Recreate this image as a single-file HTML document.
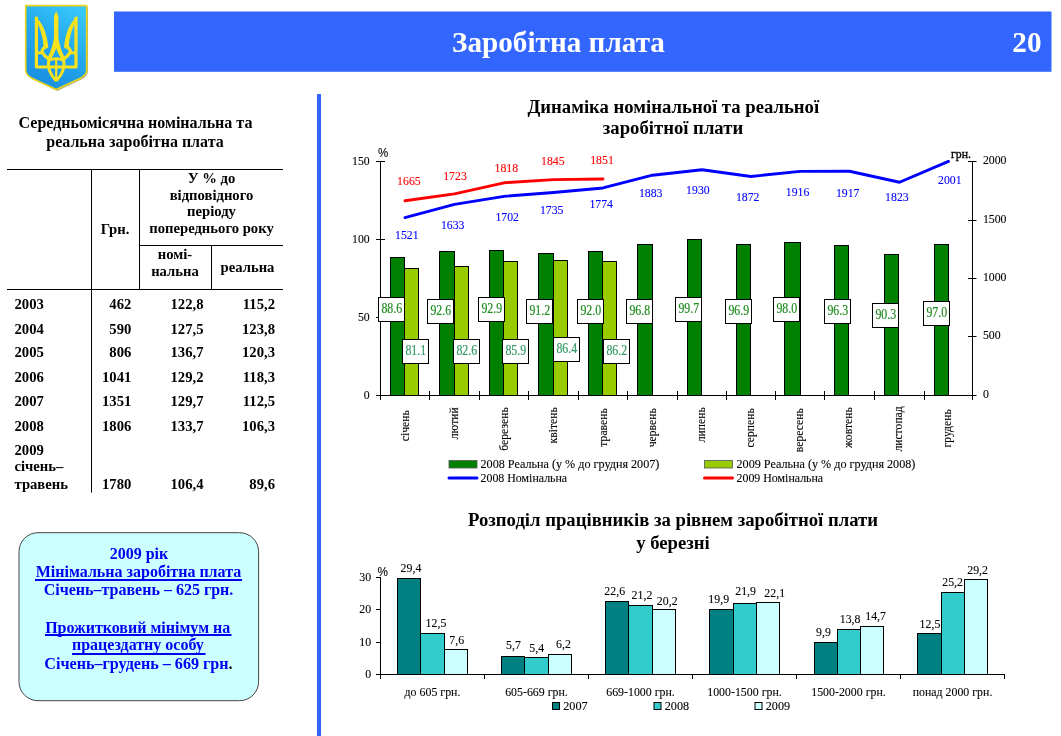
<!DOCTYPE html>
<html lang="uk"><head><meta charset="utf-8"><title>Заробітна плата</title>
<style>
html,body{margin:0;padding:0;background:#fff;}
body{width:1061px;height:736px;position:relative;overflow:hidden;font-family:"Liberation Serif",serif;}
svg text{white-space:pre;}
</style></head><body>
<svg width="1061" height="736" viewBox="0 0 1061 736" style="position:absolute;left:0;top:0;will-change:transform">
<defs>
<linearGradient id="shg" x1="0.8" y1="0" x2="0.3" y2="1"><stop offset="0" stop-color="#38c8fa"/><stop offset="0.5" stop-color="#22a6ee"/><stop offset="1" stop-color="#1a8ee0"/></linearGradient>
</defs>
<rect x="0" y="0" width="1061" height="736" fill="#fff"/>
<rect x="114" y="11.5" width="937.5" height="60.3" fill="#3366ff"/>
<text x="558.5" y="52.3" font-size="29.2" font-weight="bold" text-anchor="middle" fill="#fff" font-family='"Liberation Serif", serif' >Заробітна плата</text>
<text x="1041.5" y="52.3" font-size="29.2" font-weight="bold" text-anchor="end" fill="#fff" font-family='"Liberation Serif", serif' >20</text>
<g id="emblem">
<path d="M27 7 H88 V71.4 Q87.4 76.4 81.4 79.4 L57.2 90.9 L33.4 79.6 Q27.4 76.4 27 71.4 Z" fill="#77772a" opacity="0.6"/>
<path d="M25.7 5.7 H86.7 V70.5 Q86.2 75.5 80 78.5 L56.2 89.6 L32.4 78.5 Q26.2 75.5 25.7 70.5 Z" fill="url(#shg)" stroke="#e8d41c" stroke-width="1.7" stroke-linejoin="round"/>
<g fill="none" stroke="#f8e21e" stroke-linejoin="round" stroke-linecap="butt">
<g>
<path d="M36.4 16.8 V67 H56.2" stroke-width="3.2"/>
<path d="M34.8 16.2 C41 21 46.6 30 48.4 47.3 L43.8 49.2 C43.2 38.5 40.8 29.5 37.8 24.5 Z" fill="#f8e21e" stroke="none"/>
<path d="M47.5 46.4 Q42.6 47.6 42 51.2 Q43.6 56 49.4 59" stroke-width="3.2"/>
<path d="M36.3 52.8 H43" stroke-width="2.8"/>
<path d="M48.8 58.6 C47 68 50.4 75 56.2 81" stroke-width="3"/>
</g>
<g transform="translate(112.4,0) scale(-1,1)">
<path d="M36.4 16.8 V67 H56.2" stroke-width="3.2"/>
<path d="M34.8 16.2 C41 21 46.6 30 48.4 47.3 L43.8 49.2 C43.2 38.5 40.8 29.5 37.8 24.5 Z" fill="#f8e21e" stroke="none"/>
<path d="M47.5 46.4 Q42.6 47.6 42 51.2 Q43.6 56 49.4 59" stroke-width="3.2"/>
<path d="M36.3 52.8 H43" stroke-width="2.8"/>
<path d="M48.8 58.6 C47 68 50.4 75 56.2 81" stroke-width="3"/>
</g>
<path d="M56.2 11 L58.4 16 V37.5 C59.2 44 61.7 52 64.8 57.4 L61.6 59.6 C59.2 55 57.2 51.5 56.2 48.3 C55.2 51.5 53.2 55 50.8 59.6 L47.6 57.4 C50.7 52 53.2 44 54 37.5 V16 Z" fill="#f8e21e" stroke="none"/>
<path d="M56.2 58 V79" stroke-width="2.2"/>
<path d="M48.5 60.6 Q56.2 56.6 64 60.6" stroke-width="2.8"/>
</g>
</g>
<rect x="317" y="94" width="4" height="642" fill="#3366ff"/>
<text x="135.5" y="128" font-size="16" font-weight="bold" text-anchor="middle" fill="#000" font-family='"Liberation Serif", serif' >Середньомісячна номінальна та</text>
<text x="135" y="147" font-size="16" font-weight="bold" text-anchor="middle" fill="#000" font-family='"Liberation Serif", serif' >реальна заробітна плата</text>
<line x1="7" y1="169.5" x2="283" y2="169.5" stroke="#000" stroke-width="1"/>
<line x1="139" y1="245.5" x2="283" y2="245.5" stroke="#000" stroke-width="1"/>
<line x1="7" y1="289.5" x2="283" y2="289.5" stroke="#000" stroke-width="1"/>
<line x1="91.5" y1="169" x2="91.5" y2="492.5" stroke="#000" stroke-width="1"/>
<line x1="139.5" y1="169" x2="139.5" y2="289.5" stroke="#000" stroke-width="1"/>
<line x1="211.5" y1="245" x2="211.5" y2="289.5" stroke="#000" stroke-width="1"/>
<text x="211.5" y="182.8" font-size="14.67" font-weight="bold" text-anchor="middle" fill="#000" font-family='"Liberation Serif", serif' >У % до</text>
<text x="211.5" y="200" font-size="14.67" font-weight="bold" text-anchor="middle" fill="#000" font-family='"Liberation Serif", serif' >відповідного</text>
<text x="211.5" y="216.4" font-size="14.67" font-weight="bold" text-anchor="middle" fill="#000" font-family='"Liberation Serif", serif' >періоду</text>
<text x="211.5" y="232.8" font-size="14.67" font-weight="bold" text-anchor="middle" fill="#000" font-family='"Liberation Serif", serif' >попереднього року</text>
<text x="115" y="233.6" font-size="14.67" font-weight="bold" text-anchor="middle" fill="#000" font-family='"Liberation Serif", serif' >Грн.</text>
<text x="175" y="258.7" font-size="14.67" font-weight="bold" text-anchor="middle" fill="#000" font-family='"Liberation Serif", serif' >номі-</text>
<text x="175" y="275.7" font-size="14.67" font-weight="bold" text-anchor="middle" fill="#000" font-family='"Liberation Serif", serif' >нальна</text>
<text x="247.5" y="272" font-size="14.67" font-weight="bold" text-anchor="middle" fill="#000" font-family='"Liberation Serif", serif' >реальна</text>
<text x="14.5" y="308.8" font-size="14.67" font-weight="bold" text-anchor="start" fill="#000" font-family='"Liberation Serif", serif' >2003</text>
<text x="131.3" y="308.8" font-size="14.67" font-weight="bold" text-anchor="end" fill="#000" font-family='"Liberation Serif", serif' >462</text>
<text x="203.5" y="308.8" font-size="14.67" font-weight="bold" text-anchor="end" fill="#000" font-family='"Liberation Serif", serif' >122,8</text>
<text x="275" y="308.8" font-size="14.67" font-weight="bold" text-anchor="end" fill="#000" font-family='"Liberation Serif", serif' >115,2</text>
<text x="14.5" y="333.8" font-size="14.67" font-weight="bold" text-anchor="start" fill="#000" font-family='"Liberation Serif", serif' >2004</text>
<text x="131.3" y="333.8" font-size="14.67" font-weight="bold" text-anchor="end" fill="#000" font-family='"Liberation Serif", serif' >590</text>
<text x="203.5" y="333.8" font-size="14.67" font-weight="bold" text-anchor="end" fill="#000" font-family='"Liberation Serif", serif' >127,5</text>
<text x="275" y="333.8" font-size="14.67" font-weight="bold" text-anchor="end" fill="#000" font-family='"Liberation Serif", serif' >123,8</text>
<text x="14.5" y="356.7" font-size="14.67" font-weight="bold" text-anchor="start" fill="#000" font-family='"Liberation Serif", serif' >2005</text>
<text x="131.3" y="356.7" font-size="14.67" font-weight="bold" text-anchor="end" fill="#000" font-family='"Liberation Serif", serif' >806</text>
<text x="203.5" y="356.7" font-size="14.67" font-weight="bold" text-anchor="end" fill="#000" font-family='"Liberation Serif", serif' >136,7</text>
<text x="275" y="356.7" font-size="14.67" font-weight="bold" text-anchor="end" fill="#000" font-family='"Liberation Serif", serif' >120,3</text>
<text x="14.5" y="381.9" font-size="14.67" font-weight="bold" text-anchor="start" fill="#000" font-family='"Liberation Serif", serif' >2006</text>
<text x="131.3" y="381.9" font-size="14.67" font-weight="bold" text-anchor="end" fill="#000" font-family='"Liberation Serif", serif' >1041</text>
<text x="203.5" y="381.9" font-size="14.67" font-weight="bold" text-anchor="end" fill="#000" font-family='"Liberation Serif", serif' >129,2</text>
<text x="275" y="381.9" font-size="14.67" font-weight="bold" text-anchor="end" fill="#000" font-family='"Liberation Serif", serif' >118,3</text>
<text x="14.5" y="405.7" font-size="14.67" font-weight="bold" text-anchor="start" fill="#000" font-family='"Liberation Serif", serif' >2007</text>
<text x="131.3" y="405.7" font-size="14.67" font-weight="bold" text-anchor="end" fill="#000" font-family='"Liberation Serif", serif' >1351</text>
<text x="203.5" y="405.7" font-size="14.67" font-weight="bold" text-anchor="end" fill="#000" font-family='"Liberation Serif", serif' >129,7</text>
<text x="275" y="405.7" font-size="14.67" font-weight="bold" text-anchor="end" fill="#000" font-family='"Liberation Serif", serif' >112,5</text>
<text x="14.5" y="430.7" font-size="14.67" font-weight="bold" text-anchor="start" fill="#000" font-family='"Liberation Serif", serif' >2008</text>
<text x="131.3" y="430.7" font-size="14.67" font-weight="bold" text-anchor="end" fill="#000" font-family='"Liberation Serif", serif' >1806</text>
<text x="203.5" y="430.7" font-size="14.67" font-weight="bold" text-anchor="end" fill="#000" font-family='"Liberation Serif", serif' >133,7</text>
<text x="275" y="430.7" font-size="14.67" font-weight="bold" text-anchor="end" fill="#000" font-family='"Liberation Serif", serif' >106,3</text>
<text x="14.5" y="455" font-size="14.67" font-weight="bold" text-anchor="start" fill="#000" font-family='"Liberation Serif", serif' >2009</text>
<text x="14.5" y="471.3" font-size="14.67" font-weight="bold" text-anchor="start" fill="#000" font-family='"Liberation Serif", serif' >січень–</text>
<text x="14.5" y="488.8" font-size="14.67" font-weight="bold" text-anchor="start" fill="#000" font-family='"Liberation Serif", serif' >травень</text>
<text x="131.3" y="488.8" font-size="14.67" font-weight="bold" text-anchor="end" fill="#000" font-family='"Liberation Serif", serif' >1780</text>
<text x="203.5" y="488.8" font-size="14.67" font-weight="bold" text-anchor="end" fill="#000" font-family='"Liberation Serif", serif' >106,4</text>
<text x="275" y="488.8" font-size="14.67" font-weight="bold" text-anchor="end" fill="#000" font-family='"Liberation Serif", serif' >89,6</text>
<rect x="19" y="532.7" width="239.6" height="168" rx="19" ry="19" fill="#ccffff" stroke="#444" stroke-width="1"/>
<text x="139" y="559" font-size="16" font-weight="bold" text-anchor="middle" fill="#0000f2" font-family='"Liberation Serif", serif' >2009 рік</text>
<text x="138.5" y="577.4" font-size="16" font-weight="bold" text-anchor="middle" fill="#0000f2" font-family='"Liberation Serif", serif' >Мінімальна заробітна плата</text>
<text x="138.5" y="595.4" font-size="16" font-weight="bold" text-anchor="middle" fill="#0000f2" font-family='"Liberation Serif", serif' >Січень–травень – 625 грн.</text>
<text x="137.7" y="632.7" font-size="16" font-weight="bold" text-anchor="middle" fill="#0000f2" font-family='"Liberation Serif", serif' >Прожитковий мінімум на</text>
<text x="137.9" y="650.4" font-size="16" font-weight="bold" text-anchor="middle" fill="#0000f2" font-family='"Liberation Serif", serif' >працездатну особу</text>
<text x="138.5" y="668.8" font-size="16.13" font-weight="bold" text-anchor="middle" fill="#0000f2" font-family='"Liberation Serif", serif' >Січень–грудень – 669 грн<tspan fill="#000">.</tspan></text>
<rect x="35" y="579" width="207" height="2" fill="#0000f2"/>
<rect x="45" y="634" width="186.5" height="2" fill="#0000f2"/>
<rect x="72" y="653" width="133.5" height="2" fill="#0000f2"/>
<text x="673.3" y="113.3" font-size="18.7" font-weight="bold" text-anchor="middle" fill="#000" font-family='"Liberation Serif", serif' >Динаміка номінальної та реальної</text>
<text x="673" y="133.5" font-size="18.7" font-weight="bold" text-anchor="middle" fill="#000" font-family='"Liberation Serif", serif' >заробітної плати</text>
<rect x="390.5" y="257.5" width="14.0" height="138.0" fill="#008000" stroke="#000" stroke-width="1"/>
<rect x="404.5" y="268.5" width="14.0" height="127.0" fill="#99cc00" stroke="#000" stroke-width="1"/>
<rect x="439.5" y="251.5" width="15.0" height="144.0" fill="#008000" stroke="#000" stroke-width="1"/>
<rect x="454.5" y="266.5" width="14.0" height="129.0" fill="#99cc00" stroke="#000" stroke-width="1"/>
<rect x="489.5" y="250.5" width="14.0" height="145.0" fill="#008000" stroke="#000" stroke-width="1"/>
<rect x="503.5" y="261.5" width="14.0" height="134.0" fill="#99cc00" stroke="#000" stroke-width="1"/>
<rect x="538.5" y="253.5" width="15.0" height="142.0" fill="#008000" stroke="#000" stroke-width="1"/>
<rect x="553.5" y="260.5" width="14.0" height="135.0" fill="#99cc00" stroke="#000" stroke-width="1"/>
<rect x="588.5" y="251.5" width="14.0" height="144.0" fill="#008000" stroke="#000" stroke-width="1"/>
<rect x="602.5" y="261.5" width="14.0" height="134.0" fill="#99cc00" stroke="#000" stroke-width="1"/>
<rect x="637.5" y="244.5" width="15.0" height="151.0" fill="#008000" stroke="#000" stroke-width="1"/>
<rect x="687.5" y="239.5" width="14.0" height="156.0" fill="#008000" stroke="#000" stroke-width="1"/>
<rect x="736.5" y="244.5" width="14.0" height="151.0" fill="#008000" stroke="#000" stroke-width="1"/>
<rect x="784.5" y="242.5" width="16.0" height="153.0" fill="#008000" stroke="#000" stroke-width="1"/>
<rect x="834.5" y="245.5" width="14.0" height="150.0" fill="#008000" stroke="#000" stroke-width="1"/>
<rect x="884.5" y="254.5" width="14.0" height="141.0" fill="#008000" stroke="#000" stroke-width="1"/>
<rect x="934.5" y="244.5" width="14.0" height="151.0" fill="#008000" stroke="#000" stroke-width="1"/>
<line x1="380.5" y1="161.5" x2="380.5" y2="395.5" stroke="#000" stroke-width="1"/>
<line x1="376.0" y1="395.5" x2="976.5" y2="395.5" stroke="#000" stroke-width="1"/>
<line x1="972.5" y1="161.5" x2="972.5" y2="395.5" stroke="#000" stroke-width="1"/>
<text transform="translate(369.7,398.6) scale(0.944,1)" font-size="12.5" font-weight="normal" text-anchor="end" fill="#000" font-family='"Liberation Serif", serif'  stroke="#000" stroke-width="0.1">0</text>
<line x1="376.0" y1="317.5" x2="385.0" y2="317.5" stroke="#000" stroke-width="1"/>
<text transform="translate(369.7,320.6) scale(0.944,1)" font-size="12.5" font-weight="normal" text-anchor="end" fill="#000" font-family='"Liberation Serif", serif'  stroke="#000" stroke-width="0.1">50</text>
<line x1="376.0" y1="239.5" x2="385.0" y2="239.5" stroke="#000" stroke-width="1"/>
<text transform="translate(369.7,242.6) scale(0.944,1)" font-size="12.5" font-weight="normal" text-anchor="end" fill="#000" font-family='"Liberation Serif", serif'  stroke="#000" stroke-width="0.1">100</text>
<line x1="376.0" y1="161.5" x2="385.0" y2="161.5" stroke="#000" stroke-width="1"/>
<text transform="translate(369.7,164.6) scale(0.944,1)" font-size="12.5" font-weight="normal" text-anchor="end" fill="#000" font-family='"Liberation Serif", serif'  stroke="#000" stroke-width="0.1">150</text>
<text transform="translate(982.9,398.4) scale(0.944,1)" font-size="12.5" font-weight="normal" text-anchor="start" fill="#000" font-family='"Liberation Serif", serif'  stroke="#000" stroke-width="0.1">0</text>
<line x1="968.0" y1="336.5" x2="976.5" y2="336.5" stroke="#000" stroke-width="1"/>
<text transform="translate(982.9,339.4) scale(0.944,1)" font-size="12.5" font-weight="normal" text-anchor="start" fill="#000" font-family='"Liberation Serif", serif'  stroke="#000" stroke-width="0.1">500</text>
<line x1="968.0" y1="278.5" x2="976.5" y2="278.5" stroke="#000" stroke-width="1"/>
<text transform="translate(982.9,281.4) scale(0.944,1)" font-size="12.5" font-weight="normal" text-anchor="start" fill="#000" font-family='"Liberation Serif", serif'  stroke="#000" stroke-width="0.1">1000</text>
<line x1="968.0" y1="220.5" x2="976.5" y2="220.5" stroke="#000" stroke-width="1"/>
<text transform="translate(982.9,223.4) scale(0.944,1)" font-size="12.5" font-weight="normal" text-anchor="start" fill="#000" font-family='"Liberation Serif", serif'  stroke="#000" stroke-width="0.1">1500</text>
<line x1="968.0" y1="161.5" x2="976.5" y2="161.5" stroke="#000" stroke-width="1"/>
<text transform="translate(982.9,164.4) scale(0.944,1)" font-size="12.5" font-weight="normal" text-anchor="start" fill="#000" font-family='"Liberation Serif", serif'  stroke="#000" stroke-width="0.1">2000</text>
<line x1="380.5" y1="391.0" x2="380.5" y2="400.0" stroke="#000" stroke-width="1"/>
<line x1="429.5" y1="391.0" x2="429.5" y2="400.0" stroke="#000" stroke-width="1"/>
<line x1="479.5" y1="391.0" x2="479.5" y2="400.0" stroke="#000" stroke-width="1"/>
<line x1="528.5" y1="391.0" x2="528.5" y2="400.0" stroke="#000" stroke-width="1"/>
<line x1="578.5" y1="391.0" x2="578.5" y2="400.0" stroke="#000" stroke-width="1"/>
<line x1="627.5" y1="391.0" x2="627.5" y2="400.0" stroke="#000" stroke-width="1"/>
<line x1="677.5" y1="391.0" x2="677.5" y2="400.0" stroke="#000" stroke-width="1"/>
<line x1="726.5" y1="391.0" x2="726.5" y2="400.0" stroke="#000" stroke-width="1"/>
<line x1="775.5" y1="391.0" x2="775.5" y2="400.0" stroke="#000" stroke-width="1"/>
<line x1="824.5" y1="391.0" x2="824.5" y2="400.0" stroke="#000" stroke-width="1"/>
<line x1="874.5" y1="391.0" x2="874.5" y2="400.0" stroke="#000" stroke-width="1"/>
<line x1="924.5" y1="391.0" x2="924.5" y2="400.0" stroke="#000" stroke-width="1"/>
<line x1="972.5" y1="391.0" x2="972.5" y2="400.0" stroke="#000" stroke-width="1"/>
<text transform="translate(378,157.2) scale(0.9,1)" font-size="12.8" font-weight="normal" text-anchor="start" fill="#000" font-family='"Liberation Sans", sans-serif'  stroke="#000" stroke-width="0.1">%</text>
<text transform="translate(951,158) scale(0.944,1)" font-size="12.5" font-weight="normal" text-anchor="start" fill="#000" font-family='"Liberation Serif", serif' stroke="#000" stroke-width="0.35">грн.</text>
<polyline points="405.00,217.54 454.50,204.44 504.00,196.37 553.50,192.50 603.00,187.94 652.50,175.19 702.00,169.69 751.00,176.48 800.00,171.33 849.50,171.21 899.50,182.21 948.50,161.38" fill="none" stroke="#0000ff" stroke-width="2.9" stroke-linejoin="round" stroke-linecap="round"/>
<polyline points="405.00,200.69 454.50,193.91 504.00,182.79 553.50,179.63 603.00,178.93" fill="none" stroke="#ff0000" stroke-width="2.9" stroke-linejoin="round" stroke-linecap="round"/>
<text transform="translate(408.50,410.3) rotate(-90)" font-size="11.65" text-anchor="end" stroke="#000" stroke-width="0.1" font-family='"Liberation Serif", serif'>січень</text>
<text transform="translate(458.00,407.3) rotate(-90)" font-size="11.65" text-anchor="end" stroke="#000" stroke-width="0.1" font-family='"Liberation Serif", serif'>лютий</text>
<text transform="translate(507.50,407.3) rotate(-90)" font-size="11.65" text-anchor="end" stroke="#000" stroke-width="0.1" font-family='"Liberation Serif", serif'>березень</text>
<text transform="translate(557.00,407.3) rotate(-90)" font-size="11.65" text-anchor="end" stroke="#000" stroke-width="0.1" font-family='"Liberation Serif", serif'>квітень</text>
<text transform="translate(606.50,408.3) rotate(-90)" font-size="11.65" text-anchor="end" stroke="#000" stroke-width="0.1" font-family='"Liberation Serif", serif'>травень</text>
<text transform="translate(656.00,408.3) rotate(-90)" font-size="11.65" text-anchor="end" stroke="#000" stroke-width="0.1" font-family='"Liberation Serif", serif'>червень</text>
<text transform="translate(704.60,407.3) rotate(-90)" font-size="11.65" text-anchor="end" stroke="#000" stroke-width="0.1" font-family='"Liberation Serif", serif'>липень</text>
<text transform="translate(753.60,408.3) rotate(-90)" font-size="11.65" text-anchor="end" stroke="#000" stroke-width="0.1" font-family='"Liberation Serif", serif'>серпень</text>
<text transform="translate(802.60,408.3) rotate(-90)" font-size="11.65" text-anchor="end" stroke="#000" stroke-width="0.1" font-family='"Liberation Serif", serif'>вересень</text>
<text transform="translate(852.10,407.3) rotate(-90)" font-size="11.65" text-anchor="end" stroke="#000" stroke-width="0.1" font-family='"Liberation Serif", serif'>жовтень</text>
<text transform="translate(902.10,406.3) rotate(-90)" font-size="11.65" text-anchor="end" stroke="#000" stroke-width="0.1" font-family='"Liberation Serif", serif'>листопад</text>
<text transform="translate(951.10,409.3) rotate(-90)" font-size="11.65" text-anchor="end" stroke="#000" stroke-width="0.1" font-family='"Liberation Serif", serif'>грудень</text>
<rect x="378.5" y="297.5" width="26" height="24" fill="#fff" stroke="#000" stroke-width="1"/>
<text x="391.80" y="312.50" font-size="13.7" text-anchor="middle" fill="#228b22" stroke="#228b22" stroke-width="0.2" font-family='"Liberation Serif", serif' textLength="20.8" lengthAdjust="spacingAndGlyphs">88.6</text>
<rect x="427.5" y="299.5" width="26" height="24" fill="#fff" stroke="#000" stroke-width="1"/>
<text x="440.80" y="314.50" font-size="13.7" text-anchor="middle" fill="#228b22" stroke="#228b22" stroke-width="0.2" font-family='"Liberation Serif", serif' textLength="20.8" lengthAdjust="spacingAndGlyphs">92.6</text>
<rect x="478.5" y="297.5" width="26" height="24" fill="#fff" stroke="#000" stroke-width="1"/>
<text x="491.80" y="312.50" font-size="13.7" text-anchor="middle" fill="#228b22" stroke="#228b22" stroke-width="0.2" font-family='"Liberation Serif", serif' textLength="20.8" lengthAdjust="spacingAndGlyphs">92.9</text>
<rect x="526.5" y="299.5" width="26" height="24" fill="#fff" stroke="#000" stroke-width="1"/>
<text x="539.80" y="314.50" font-size="13.7" text-anchor="middle" fill="#228b22" stroke="#228b22" stroke-width="0.2" font-family='"Liberation Serif", serif' textLength="20.8" lengthAdjust="spacingAndGlyphs">91.2</text>
<rect x="577.5" y="299.5" width="26" height="24" fill="#fff" stroke="#000" stroke-width="1"/>
<text x="590.80" y="314.50" font-size="13.7" text-anchor="middle" fill="#228b22" stroke="#228b22" stroke-width="0.2" font-family='"Liberation Serif", serif' textLength="20.8" lengthAdjust="spacingAndGlyphs">92.0</text>
<rect x="626.5" y="299.5" width="26" height="24" fill="#fff" stroke="#000" stroke-width="1"/>
<text x="639.80" y="314.50" font-size="13.7" text-anchor="middle" fill="#228b22" stroke="#228b22" stroke-width="0.2" font-family='"Liberation Serif", serif' textLength="20.8" lengthAdjust="spacingAndGlyphs">96.8</text>
<rect x="675.5" y="297.5" width="26" height="24" fill="#fff" stroke="#000" stroke-width="1"/>
<text x="688.80" y="312.50" font-size="13.7" text-anchor="middle" fill="#228b22" stroke="#228b22" stroke-width="0.2" font-family='"Liberation Serif", serif' textLength="20.8" lengthAdjust="spacingAndGlyphs">99.7</text>
<rect x="725.5" y="299.5" width="26" height="24" fill="#fff" stroke="#000" stroke-width="1"/>
<text x="738.80" y="314.50" font-size="13.7" text-anchor="middle" fill="#228b22" stroke="#228b22" stroke-width="0.2" font-family='"Liberation Serif", serif' textLength="20.8" lengthAdjust="spacingAndGlyphs">96.9</text>
<rect x="773.5" y="297.5" width="26" height="24" fill="#fff" stroke="#000" stroke-width="1"/>
<text x="786.80" y="312.50" font-size="13.7" text-anchor="middle" fill="#228b22" stroke="#228b22" stroke-width="0.2" font-family='"Liberation Serif", serif' textLength="20.8" lengthAdjust="spacingAndGlyphs">98.0</text>
<rect x="824.5" y="299.5" width="26" height="24" fill="#fff" stroke="#000" stroke-width="1"/>
<text x="837.80" y="314.50" font-size="13.7" text-anchor="middle" fill="#228b22" stroke="#228b22" stroke-width="0.2" font-family='"Liberation Serif", serif' textLength="20.8" lengthAdjust="spacingAndGlyphs">96.3</text>
<rect x="872.5" y="303.5" width="26" height="24" fill="#fff" stroke="#000" stroke-width="1"/>
<text x="885.80" y="318.50" font-size="13.7" text-anchor="middle" fill="#228b22" stroke="#228b22" stroke-width="0.2" font-family='"Liberation Serif", serif' textLength="20.8" lengthAdjust="spacingAndGlyphs">90.3</text>
<rect x="923.5" y="301.5" width="26" height="24" fill="#fff" stroke="#000" stroke-width="1"/>
<text x="936.80" y="316.50" font-size="13.7" text-anchor="middle" fill="#228b22" stroke="#228b22" stroke-width="0.2" font-family='"Liberation Serif", serif' textLength="20.8" lengthAdjust="spacingAndGlyphs">97.0</text>
<rect x="402.5" y="339.5" width="26" height="24" fill="#fff" stroke="#000" stroke-width="1"/>
<text x="415.80" y="354.50" font-size="13.7" text-anchor="middle" fill="#339966" stroke="#339966" stroke-width="0.2" font-family='"Liberation Serif", serif' textLength="20.8" lengthAdjust="spacingAndGlyphs">81.1</text>
<rect x="453.5" y="339.5" width="26" height="24" fill="#fff" stroke="#000" stroke-width="1"/>
<text x="466.80" y="354.50" font-size="13.7" text-anchor="middle" fill="#339966" stroke="#339966" stroke-width="0.2" font-family='"Liberation Serif", serif' textLength="20.8" lengthAdjust="spacingAndGlyphs">82.6</text>
<rect x="502.5" y="339.5" width="26" height="24" fill="#fff" stroke="#000" stroke-width="1"/>
<text x="515.80" y="354.50" font-size="13.7" text-anchor="middle" fill="#339966" stroke="#339966" stroke-width="0.2" font-family='"Liberation Serif", serif' textLength="20.8" lengthAdjust="spacingAndGlyphs">85.9</text>
<rect x="553.5" y="337.5" width="26" height="24" fill="#fff" stroke="#000" stroke-width="1"/>
<text x="566.80" y="352.50" font-size="13.7" text-anchor="middle" fill="#339966" stroke="#339966" stroke-width="0.2" font-family='"Liberation Serif", serif' textLength="20.8" lengthAdjust="spacingAndGlyphs">86.4</text>
<rect x="603.5" y="339.5" width="26" height="24" fill="#fff" stroke="#000" stroke-width="1"/>
<text x="616.80" y="354.50" font-size="13.7" text-anchor="middle" fill="#339966" stroke="#339966" stroke-width="0.2" font-family='"Liberation Serif", serif' textLength="20.8" lengthAdjust="spacingAndGlyphs">86.2</text>
<text transform="translate(406.8,239.1) scale(0.944,1)" font-size="12.5" font-weight="normal" text-anchor="middle" fill="#0000ff" font-family='"Liberation Serif", serif'  stroke="#0000ff" stroke-width="0.1">1521</text>
<text transform="translate(452.7,228.7) scale(0.944,1)" font-size="12.5" font-weight="normal" text-anchor="middle" fill="#0000ff" font-family='"Liberation Serif", serif'  stroke="#0000ff" stroke-width="0.1">1633</text>
<text transform="translate(507.2,220.8) scale(0.944,1)" font-size="12.5" font-weight="normal" text-anchor="middle" fill="#0000ff" font-family='"Liberation Serif", serif'  stroke="#0000ff" stroke-width="0.1">1702</text>
<text transform="translate(551.7,214) scale(0.944,1)" font-size="12.5" font-weight="normal" text-anchor="middle" fill="#0000ff" font-family='"Liberation Serif", serif'  stroke="#0000ff" stroke-width="0.1">1735</text>
<text transform="translate(601.2,207.5) scale(0.944,1)" font-size="12.5" font-weight="normal" text-anchor="middle" fill="#0000ff" font-family='"Liberation Serif", serif'  stroke="#0000ff" stroke-width="0.1">1774</text>
<text transform="translate(650.7,196.7) scale(0.944,1)" font-size="12.5" font-weight="normal" text-anchor="middle" fill="#0000ff" font-family='"Liberation Serif", serif'  stroke="#0000ff" stroke-width="0.1">1883</text>
<text transform="translate(697.9,193.6) scale(0.944,1)" font-size="12.5" font-weight="normal" text-anchor="middle" fill="#0000ff" font-family='"Liberation Serif", serif'  stroke="#0000ff" stroke-width="0.1">1930</text>
<text transform="translate(747.7,201) scale(0.944,1)" font-size="12.5" font-weight="normal" text-anchor="middle" fill="#0000ff" font-family='"Liberation Serif", serif'  stroke="#0000ff" stroke-width="0.1">1872</text>
<text transform="translate(797.6,195.9) scale(0.944,1)" font-size="12.5" font-weight="normal" text-anchor="middle" fill="#0000ff" font-family='"Liberation Serif", serif'  stroke="#0000ff" stroke-width="0.1">1916</text>
<text transform="translate(847.7,197) scale(0.944,1)" font-size="12.5" font-weight="normal" text-anchor="middle" fill="#0000ff" font-family='"Liberation Serif", serif'  stroke="#0000ff" stroke-width="0.1">1917</text>
<text transform="translate(896.9,201) scale(0.944,1)" font-size="12.5" font-weight="normal" text-anchor="middle" fill="#0000ff" font-family='"Liberation Serif", serif'  stroke="#0000ff" stroke-width="0.1">1823</text>
<text transform="translate(949.8,183.5) scale(0.944,1)" font-size="12.5" font-weight="normal" text-anchor="middle" fill="#0000ff" font-family='"Liberation Serif", serif'  stroke="#0000ff" stroke-width="0.1">2001</text>
<text transform="translate(408.9,185.4) scale(0.944,1)" font-size="12.5" font-weight="normal" text-anchor="middle" fill="#ff0000" font-family='"Liberation Serif", serif'  stroke="#ff0000" stroke-width="0.1">1665</text>
<text transform="translate(455,179.5) scale(0.944,1)" font-size="12.5" font-weight="normal" text-anchor="middle" fill="#ff0000" font-family='"Liberation Serif", serif'  stroke="#ff0000" stroke-width="0.1">1723</text>
<text transform="translate(506.3,172.4) scale(0.944,1)" font-size="12.5" font-weight="normal" text-anchor="middle" fill="#ff0000" font-family='"Liberation Serif", serif'  stroke="#ff0000" stroke-width="0.1">1818</text>
<text transform="translate(552.8,164.5) scale(0.944,1)" font-size="12.5" font-weight="normal" text-anchor="middle" fill="#ff0000" font-family='"Liberation Serif", serif'  stroke="#ff0000" stroke-width="0.1">1845</text>
<text transform="translate(602,163.7) scale(0.944,1)" font-size="12.5" font-weight="normal" text-anchor="middle" fill="#ff0000" font-family='"Liberation Serif", serif'  stroke="#ff0000" stroke-width="0.1">1851</text>
<rect x="449" y="460.5" width="28" height="7.5" fill="#008000" stroke="#555" stroke-width="0.8"/>
<rect x="704.5" y="460.5" width="28" height="7.5" fill="#99cc00" stroke="#555" stroke-width="0.8"/>
<line x1="449" y1="478" x2="477" y2="478" stroke="#0000ff" stroke-width="3" stroke-linecap="round"/>
<line x1="704.5" y1="478" x2="732.5" y2="478" stroke="#ff0000" stroke-width="3" stroke-linecap="round"/>
<text x="480.5" y="467.5" font-size="12.15" font-weight="normal" text-anchor="start" fill="#000" font-family='"Liberation Serif", serif'  stroke="#000" stroke-width="0.1">2008 Реальна (у % до грудня 2007)</text>
<text x="480.5" y="482.1" font-size="11.9" font-weight="normal" text-anchor="start" fill="#000" font-family='"Liberation Serif", serif'  stroke="#000" stroke-width="0.1">2008 Номінальна</text>
<text x="736.5" y="467.5" font-size="12.15" font-weight="normal" text-anchor="start" fill="#000" font-family='"Liberation Serif", serif'  stroke="#000" stroke-width="0.1">2009 Реальна (у % до грудня 2008)</text>
<text x="736.5" y="482.1" font-size="11.9" font-weight="normal" text-anchor="start" fill="#000" font-family='"Liberation Serif", serif'  stroke="#000" stroke-width="0.1">2009 Номінальна</text>
<text x="673" y="526.2" font-size="18.7" font-weight="bold" text-anchor="middle" fill="#000" font-family='"Liberation Serif", serif' >Розподіл працівників за рівнем заробітної плати</text>
<text x="673" y="548.7" font-size="18.7" font-weight="bold" text-anchor="middle" fill="#000" font-family='"Liberation Serif", serif' >у березні</text>
<rect x="397.5" y="578.5" width="23" height="96.0" fill="#008080" stroke="#000" stroke-width="1"/>
<text transform="translate(411,571.5) scale(0.95,1)" font-size="12.5" font-weight="normal" text-anchor="middle" fill="#000" font-family='"Liberation Serif", serif'  stroke="#000" stroke-width="0.1">29,4</text>
<rect x="420.5" y="633.5" width="24" height="41.0" fill="#33cccc" stroke="#000" stroke-width="1"/>
<text transform="translate(436,626.5) scale(0.95,1)" font-size="12.5" font-weight="normal" text-anchor="middle" fill="#000" font-family='"Liberation Serif", serif'  stroke="#000" stroke-width="0.1">12,5</text>
<rect x="444.5" y="649.5" width="23" height="25.0" fill="#ccffff" stroke="#000" stroke-width="1"/>
<text transform="translate(456.75,643.75) scale(0.95,1)" font-size="12.5" font-weight="normal" text-anchor="middle" fill="#000" font-family='"Liberation Serif", serif'  stroke="#000" stroke-width="0.1">7,6</text>
<text transform="translate(432.50,696.1) scale(0.95,1)" font-size="12.5" font-weight="normal" text-anchor="middle" fill="#000" font-family='"Liberation Serif", serif'  stroke="#000" stroke-width="0.1">до 605 грн.</text>
<rect x="501.5" y="656.5" width="23" height="18.0" fill="#008080" stroke="#000" stroke-width="1"/>
<text transform="translate(513.5,649) scale(0.95,1)" font-size="12.5" font-weight="normal" text-anchor="middle" fill="#000" font-family='"Liberation Serif", serif'  stroke="#000" stroke-width="0.1">5,7</text>
<rect x="524.5" y="657.5" width="24" height="17.0" fill="#33cccc" stroke="#000" stroke-width="1"/>
<text transform="translate(536.75,651.5) scale(0.95,1)" font-size="12.5" font-weight="normal" text-anchor="middle" fill="#000" font-family='"Liberation Serif", serif'  stroke="#000" stroke-width="0.1">5,4</text>
<rect x="548.5" y="654.5" width="23" height="20.0" fill="#ccffff" stroke="#000" stroke-width="1"/>
<text transform="translate(563.5,647.75) scale(0.95,1)" font-size="12.5" font-weight="normal" text-anchor="middle" fill="#000" font-family='"Liberation Serif", serif'  stroke="#000" stroke-width="0.1">6,2</text>
<text transform="translate(536.50,696.1) scale(0.95,1)" font-size="12.5" font-weight="normal" text-anchor="middle" fill="#000" font-family='"Liberation Serif", serif'  stroke="#000" stroke-width="0.1">605-669 грн.</text>
<rect x="605.5" y="601.5" width="23" height="73.0" fill="#008080" stroke="#000" stroke-width="1"/>
<text transform="translate(614.75,594.5) scale(0.95,1)" font-size="12.5" font-weight="normal" text-anchor="middle" fill="#000" font-family='"Liberation Serif", serif'  stroke="#000" stroke-width="0.1">22,6</text>
<rect x="628.5" y="605.5" width="24" height="69.0" fill="#33cccc" stroke="#000" stroke-width="1"/>
<text transform="translate(642,599) scale(0.95,1)" font-size="12.5" font-weight="normal" text-anchor="middle" fill="#000" font-family='"Liberation Serif", serif'  stroke="#000" stroke-width="0.1">21,2</text>
<rect x="652.5" y="609.5" width="23" height="65.0" fill="#ccffff" stroke="#000" stroke-width="1"/>
<text transform="translate(667.25,604.5) scale(0.95,1)" font-size="12.5" font-weight="normal" text-anchor="middle" fill="#000" font-family='"Liberation Serif", serif'  stroke="#000" stroke-width="0.1">20,2</text>
<text transform="translate(640.50,696.1) scale(0.95,1)" font-size="12.5" font-weight="normal" text-anchor="middle" fill="#000" font-family='"Liberation Serif", serif'  stroke="#000" stroke-width="0.1">669-1000 грн.</text>
<rect x="709.5" y="609.5" width="24" height="65.0" fill="#008080" stroke="#000" stroke-width="1"/>
<text transform="translate(718.75,603.25) scale(0.95,1)" font-size="12.5" font-weight="normal" text-anchor="middle" fill="#000" font-family='"Liberation Serif", serif'  stroke="#000" stroke-width="0.1">19,9</text>
<rect x="733.5" y="603.5" width="23" height="71.0" fill="#33cccc" stroke="#000" stroke-width="1"/>
<text transform="translate(745.6,594.5) scale(0.95,1)" font-size="12.5" font-weight="normal" text-anchor="middle" fill="#000" font-family='"Liberation Serif", serif'  stroke="#000" stroke-width="0.1">21,9</text>
<rect x="756.5" y="602.5" width="23" height="72.0" fill="#ccffff" stroke="#000" stroke-width="1"/>
<text transform="translate(774.75,597) scale(0.95,1)" font-size="12.5" font-weight="normal" text-anchor="middle" fill="#000" font-family='"Liberation Serif", serif'  stroke="#000" stroke-width="0.1">22,1</text>
<text transform="translate(744.50,696.1) scale(0.95,1)" font-size="12.5" font-weight="normal" text-anchor="middle" fill="#000" font-family='"Liberation Serif", serif'  stroke="#000" stroke-width="0.1">1000-1500 грн.</text>
<rect x="814.5" y="642.5" width="23" height="32.0" fill="#008080" stroke="#000" stroke-width="1"/>
<text transform="translate(823.5,636.25) scale(0.95,1)" font-size="12.5" font-weight="normal" text-anchor="middle" fill="#000" font-family='"Liberation Serif", serif'  stroke="#000" stroke-width="0.1">9,9</text>
<rect x="837.5" y="629.5" width="23" height="45.0" fill="#33cccc" stroke="#000" stroke-width="1"/>
<text transform="translate(850.1,622.75) scale(0.95,1)" font-size="12.5" font-weight="normal" text-anchor="middle" fill="#000" font-family='"Liberation Serif", serif'  stroke="#000" stroke-width="0.1">13,8</text>
<rect x="860.5" y="626.5" width="23" height="48.0" fill="#ccffff" stroke="#000" stroke-width="1"/>
<text transform="translate(875.6,619.5) scale(0.95,1)" font-size="12.5" font-weight="normal" text-anchor="middle" fill="#000" font-family='"Liberation Serif", serif'  stroke="#000" stroke-width="0.1">14,7</text>
<text transform="translate(848.50,696.1) scale(0.95,1)" font-size="12.5" font-weight="normal" text-anchor="middle" fill="#000" font-family='"Liberation Serif", serif'  stroke="#000" stroke-width="0.1">1500-2000 грн.</text>
<rect x="917.5" y="633.5" width="24" height="41.0" fill="#008080" stroke="#000" stroke-width="1"/>
<text transform="translate(930,627.5) scale(0.95,1)" font-size="12.5" font-weight="normal" text-anchor="middle" fill="#000" font-family='"Liberation Serif", serif'  stroke="#000" stroke-width="0.1">12,5</text>
<rect x="941.5" y="592.5" width="23" height="82.0" fill="#33cccc" stroke="#000" stroke-width="1"/>
<text transform="translate(952.6,586.25) scale(0.95,1)" font-size="12.5" font-weight="normal" text-anchor="middle" fill="#000" font-family='"Liberation Serif", serif'  stroke="#000" stroke-width="0.1">25,2</text>
<rect x="964.5" y="579.5" width="23" height="95.0" fill="#ccffff" stroke="#000" stroke-width="1"/>
<text transform="translate(977.6,573.75) scale(0.95,1)" font-size="12.5" font-weight="normal" text-anchor="middle" fill="#000" font-family='"Liberation Serif", serif'  stroke="#000" stroke-width="0.1">29,2</text>
<text transform="translate(952.50,696.1) scale(0.95,1)" font-size="12.5" font-weight="normal" text-anchor="middle" fill="#000" font-family='"Liberation Serif", serif'  stroke="#000" stroke-width="0.1">понад 2000 грн.</text>
<line x1="380.5" y1="577" x2="380.5" y2="674.5" stroke="#000" stroke-width="1"/>
<line x1="376.0" y1="674.5" x2="1005.0" y2="674.5" stroke="#000" stroke-width="1"/>
<text transform="translate(371.2,677.7) scale(0.95,1)" font-size="12.5" font-weight="normal" text-anchor="end" fill="#000" font-family='"Liberation Serif", serif'  stroke="#000" stroke-width="0.1">0</text>
<line x1="376.0" y1="642.5" x2="380.5" y2="642.5" stroke="#000" stroke-width="1"/>
<text transform="translate(371.2,645.7) scale(0.95,1)" font-size="12.5" font-weight="normal" text-anchor="end" fill="#000" font-family='"Liberation Serif", serif'  stroke="#000" stroke-width="0.1">10</text>
<line x1="376.0" y1="609.5" x2="380.5" y2="609.5" stroke="#000" stroke-width="1"/>
<text transform="translate(371.2,612.7) scale(0.95,1)" font-size="12.5" font-weight="normal" text-anchor="end" fill="#000" font-family='"Liberation Serif", serif'  stroke="#000" stroke-width="0.1">20</text>
<line x1="376.0" y1="577.5" x2="380.5" y2="577.5" stroke="#000" stroke-width="1"/>
<text transform="translate(371.2,580.7) scale(0.95,1)" font-size="12.5" font-weight="normal" text-anchor="end" fill="#000" font-family='"Liberation Serif", serif'  stroke="#000" stroke-width="0.1">30</text>
<line x1="380.5" y1="674.5" x2="380.5" y2="679.0" stroke="#000" stroke-width="1"/>
<line x1="484.5" y1="674.5" x2="484.5" y2="679.0" stroke="#000" stroke-width="1"/>
<line x1="588.5" y1="674.5" x2="588.5" y2="679.0" stroke="#000" stroke-width="1"/>
<line x1="692.5" y1="674.5" x2="692.5" y2="679.0" stroke="#000" stroke-width="1"/>
<line x1="796.5" y1="674.5" x2="796.5" y2="679.0" stroke="#000" stroke-width="1"/>
<line x1="900.5" y1="674.5" x2="900.5" y2="679.0" stroke="#000" stroke-width="1"/>
<line x1="1004.5" y1="674.5" x2="1004.5" y2="679.0" stroke="#000" stroke-width="1"/>
<text transform="translate(377.6,576.3) scale(0.88,1)" font-size="13.4" font-weight="normal" text-anchor="start" fill="#000" font-family='"Liberation Sans", sans-serif'  stroke="#000" stroke-width="0.1">%</text>
<rect x="552.5" y="702.5" width="7" height="7" fill="#008080" stroke="#000" stroke-width="1"/>
<text x="563.2" y="710" font-size="12.2" font-weight="normal" text-anchor="start" fill="#000" font-family='"Liberation Serif", serif'  stroke="#000" stroke-width="0.1">2007</text>
<rect x="654" y="702.5" width="7" height="7" fill="#33cccc" stroke="#000" stroke-width="1"/>
<text x="664.7" y="710" font-size="12.2" font-weight="normal" text-anchor="start" fill="#000" font-family='"Liberation Serif", serif'  stroke="#000" stroke-width="0.1">2008</text>
<rect x="755" y="702.5" width="7" height="7" fill="#ccffff" stroke="#000" stroke-width="1"/>
<text x="765.7" y="710" font-size="12.2" font-weight="normal" text-anchor="start" fill="#000" font-family='"Liberation Serif", serif'  stroke="#000" stroke-width="0.1">2009</text>
</svg>
</body></html>
